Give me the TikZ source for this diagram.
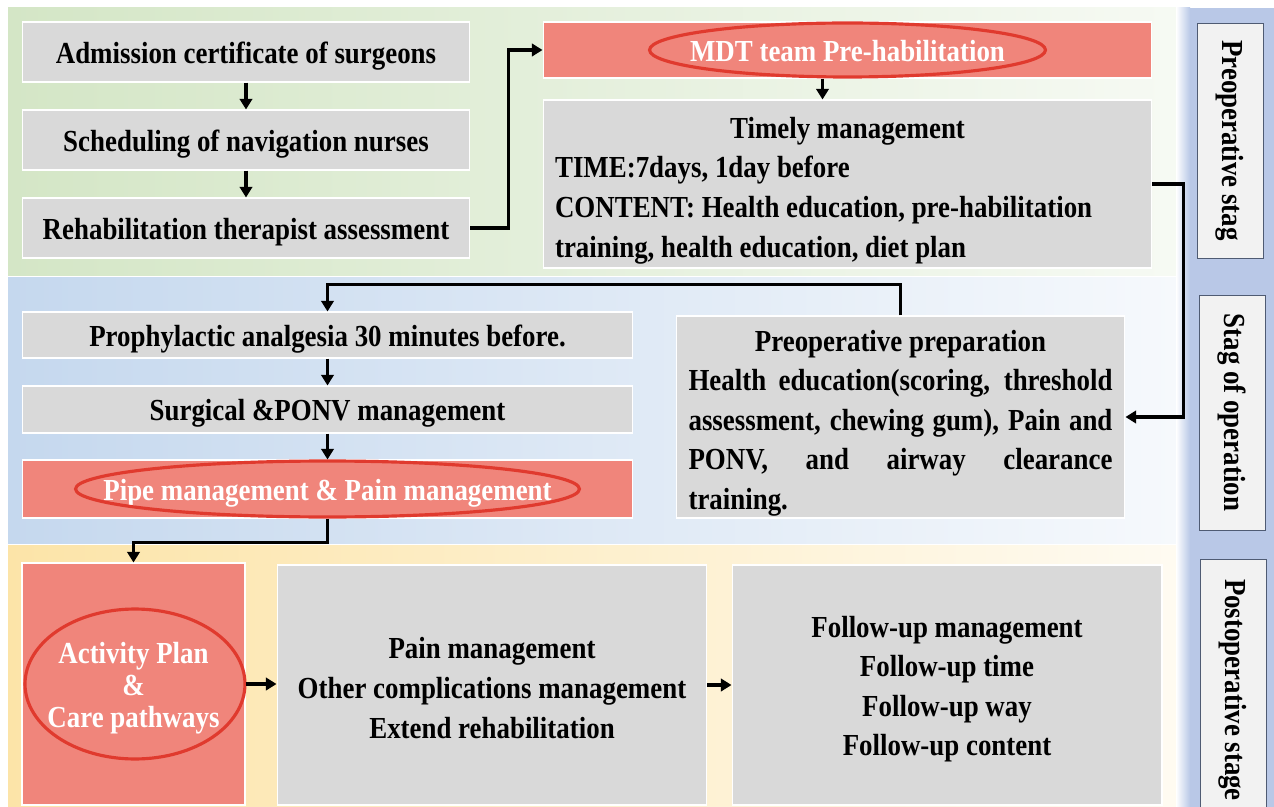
\documentclass[tikz,border=0pt]{standalone}
\usepackage{fontspec}
\setmainfont{Liberation Serif}[FakeStretch=0.88]
\usetikzlibrary{arrows.meta}

\definecolor{greenband}{HTML}{D4E6C6}
\definecolor{blueband}{HTML}{C5D8EE}
\definecolor{yellowband}{HTML}{FCE4A8}
\definecolor{boxgray}{HTML}{D9D9D9}
\definecolor{boxred}{HTML}{F0857B}
\definecolor{ovalred}{HTML}{E03A2E}
\definecolor{stagestrip}{HTML}{B9C8E7}
\definecolor{stagebox}{HTML}{F2F2F2}
\definecolor{stageedge}{HTML}{4F5B73}

\begin{document}
\begin{tikzpicture}[x=0.02cm, y=-0.02cm,
  every node/.style={font=\fontsize{17.4}{22.5}\selectfont\bfseries},
  graybox/.style={fill=boxgray, draw=white, line width=0.6pt, inner sep=0pt, align=center},
  redbox/.style={fill=boxred, draw=white, line width=0.6pt, inner sep=0pt, align=center, text=white},
  oneline/.style={text height=15pt, text depth=2pt},
  ovalring/.style={draw=ovalred, line width=1.8pt},
  stagelabel/.style={fill=stagebox, draw=stageedge, line width=0.5pt, rotate=-90, inner sep=0pt, minimum height=1.32cm},
  flow/.style={line width=2pt, -{Triangle[length=6pt,width=7pt]}}]

  \useasboundingbox (0,0) rectangle (1274,807);
  \fill[white] (0,0) rectangle (1274,807);

  % stage bands
  \shade[left color=greenband, right color=greenband!20!white] (8,8) rectangle (1183,276);
  \shade[left color=blueband, right color=blueband!15!white] (8,278) rectangle (1183,543);
  \shade[left color=yellowband, right color=yellowband!15!white] (8,545) rectangle (1183,807);
  \fill[stagestrip] (1190,8) rectangle (1274,807);
  \shade[left color=white, right color=stagestrip] (1176,8) rectangle (1190,807);

  % preoperative stage
  \node[graybox, oneline, minimum width=8.96cm, minimum height=1.2cm] (admit) at (246,52) {Admission certificate of surgeons};
  \node[graybox, oneline, minimum width=8.96cm, minimum height=1.2cm] (sched) at (246,140) {Scheduling of navigation nurses};
  \node[graybox, oneline, minimum width=8.96cm, minimum height=1.2cm] (assess) at (246,228) {Rehabilitation therapist assessment};

  \node[redbox, oneline, minimum width=12.18cm, minimum height=1.12cm] (mdt) at (847.5,50) {MDT team Pre-habilitation};
  \draw[ovalring] (mdt.center) ellipse [x radius=3.96cm, y radius=0.54cm];
  \node[graybox, minimum width=12.18cm, minimum height=3.36cm, text width=11.7cm, align=justify] (timely) at (847.5,184)
    {\rule{0pt}{19.5pt}\hspace*{\fill}Timely management\hspace*{\fill}\\
     TIME:7days, 1day before\\
     CONTENT: Health education, pre-habilitation\\
     training, health education, diet plan};

  % stage of operation
  \node[graybox, minimum width=8.98cm, minimum height=4.04cm, text width=8.48cm, align=justify] (prep) at (900.5,417)
    {\rule{0pt}{19pt}\hspace*{\fill}Preoperative preparation\hspace*{\fill}\\
     Health education(scoring, threshold\linebreak
     assessment, chewing gum), Pain and\linebreak
     PONV, and airway clearance\linebreak
     training.};

  \node[graybox, oneline, minimum width=12.22cm, minimum height=0.92cm] (prophy) at (327.5,335) {Prophylactic analgesia 30 minutes before.};
  \node[graybox, oneline, minimum width=12.22cm, minimum height=0.94cm] (surg) at (327.5,409.5) {Surgical \&PONV management};
  \node[redbox, oneline, minimum width=12.22cm, minimum height=1.16cm] (pipe) at (327.5,489) {Pipe management \& Pain management};
  \draw[ovalring] (pipe.center) ellipse [x radius=5.04cm, y radius=0.56cm];

  % postoperative stage
  \node[redbox, minimum width=4.46cm, minimum height=4.84cm, font=\fontsize{17.4}{18.3}\selectfont\bfseries] (act) at (133.5,684)
    {\rule{0pt}{16.5pt}Activity Plan\\\&\\Care pathways};
  \draw[ovalring] ([xshift=0.03cm]act.center) ellipse [x radius=2.2cm, y radius=1.5cm];
  \node[graybox, minimum width=8.6cm, minimum height=4.8cm] (mid) at (492,685)
    {\rule{0pt}{15.5pt}Pain management\\Other complications management\\Extend rehabilitation};
  \node[graybox, minimum width=8.6cm, minimum height=4.8cm] (follow) at (947,685)
    {\rule{0pt}{17pt}Follow-up management\\Follow-up time\\Follow-up way\\Follow-up content};

  % stage labels
  \node[stagelabel, minimum width=4.7cm] (stagepre) at (1230,140.5) {Preoperative stag};
  \node[stagelabel, minimum width=4.7cm] (stageop) at (1232,412.5) {Stag of operation};
  \node[stagelabel, minimum width=5.24cm] (stagepost) at (1233,690) {Postoperative stage};

  \draw[flow] (admit) -- (sched);
  \draw[flow] (sched) -- (assess);
  \draw[flow] (assess.east) -- ++(38,0) |- (mdt.west);
  \draw[flow] ([xshift=-0.5cm]mdt.south) -- ([xshift=-0.5cm]timely.north);
  \draw[flow] (timely.east) -- ++(31,0) |- (prep.east);
  \draw[flow] (prep.north) -- ++(0,-31) -| (prophy.north);
  \draw[flow] (prophy) -- (surg);
  \draw[flow] (surg) -- (pipe);
  \draw[flow] (pipe.south) -- ++(0,24) -| (act.north);
  \draw[flow] (act.east) -- (act.east -| mid.west);
  \draw[flow] (mid.east) -- (mid.east -| follow.west);
\end{tikzpicture}
\end{document}
